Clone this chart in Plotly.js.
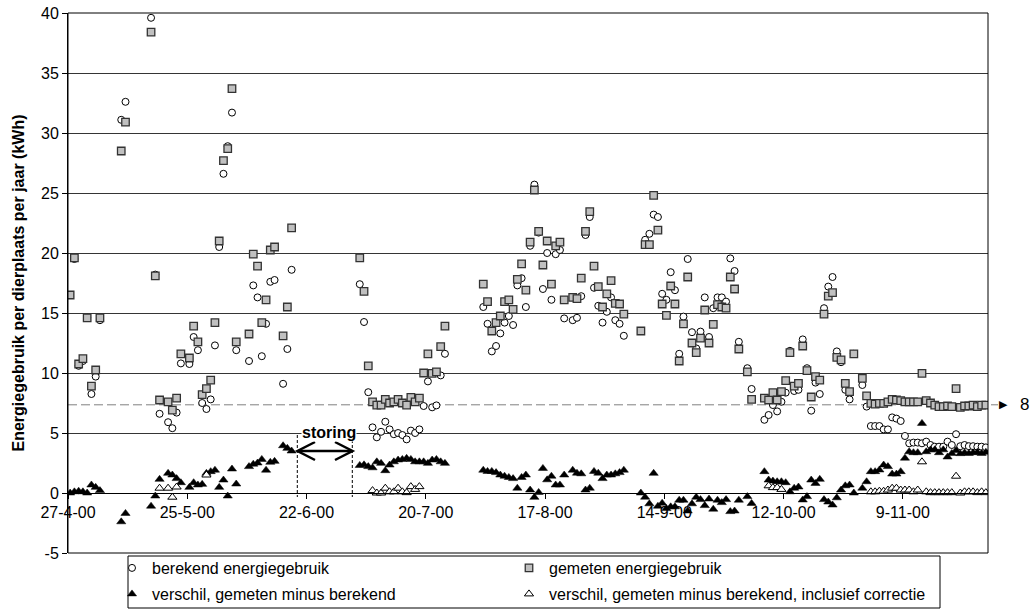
<!DOCTYPE html>
<html><head><meta charset="utf-8">
<script src="https://cdn.plot.ly/plotly-3.0.1.min.js"></script>
<style>html,body{margin:0;padding:0;background:#fff;}#chart{width:1035px;height:614px;}</style>
</head><body><div id="chart"></div>
<script>
// ---------------- data ----------------
const dates = [
'2000-04-27','2000-04-28','2000-04-29','2000-04-30','2000-05-01','2000-05-02','2000-05-03','2000-05-04',
'2000-05-09','2000-05-10','2000-05-16','2000-05-17','2000-05-18','2000-05-20','2000-05-21','2000-05-22','2000-05-23','2000-05-25','2000-05-26','2000-05-27','2000-05-28','2000-05-29','2000-05-30','2000-05-31',
'2000-06-01','2000-06-02','2000-06-03','2000-06-04','2000-06-05','2000-06-08','2000-06-09','2000-06-10','2000-06-11','2000-06-12','2000-06-13','2000-06-14','2000-06-16','2000-06-17','2000-06-18',
'2000-07-04','2000-07-05','2000-07-06','2000-07-07','2000-07-08','2000-07-09','2000-07-10','2000-07-11','2000-07-12','2000-07-13','2000-07-14','2000-07-15','2000-07-16','2000-07-17','2000-07-18','2000-07-19','2000-07-20','2000-07-21','2000-07-22','2000-07-23','2000-07-24',
'2000-08-02','2000-08-03','2000-08-04','2000-08-05','2000-08-06','2000-08-07','2000-08-08','2000-08-09','2000-08-10','2000-08-11','2000-08-12','2000-08-13','2000-08-14','2000-08-15','2000-08-16','2000-08-17','2000-08-18','2000-08-19','2000-08-20','2000-08-21',
'2000-08-23','2000-08-24','2000-08-25','2000-08-26','2000-08-27','2000-08-28','2000-08-29','2000-08-30','2000-08-31','2000-09-01','2000-09-02','2000-09-03','2000-09-04',
'2000-09-08','2000-09-09','2000-09-10','2000-09-11','2000-09-12','2000-09-13','2000-09-14','2000-09-15','2000-09-16','2000-09-17','2000-09-18','2000-09-19','2000-09-20','2000-09-21','2000-09-22','2000-09-23','2000-09-24','2000-09-25','2000-09-26','2000-09-27','2000-09-28','2000-09-29','2000-09-30','2000-10-01',
'2000-10-03','2000-10-04',
'2000-10-07','2000-10-08','2000-10-09','2000-10-10','2000-10-11','2000-10-12','2000-10-13','2000-10-14','2000-10-15','2000-10-16','2000-10-17','2000-10-18','2000-10-19','2000-10-20','2000-10-21','2000-10-22','2000-10-23','2000-10-24','2000-10-25','2000-10-26','2000-10-27','2000-10-28',
'2000-10-30','2000-10-31',
'2000-11-01','2000-11-02','2000-11-03','2000-11-04','2000-11-05','2000-11-06','2000-11-07','2000-11-08','2000-11-09','2000-11-10','2000-11-11','2000-11-12','2000-11-13','2000-11-14','2000-11-15','2000-11-16','2000-11-17','2000-11-18','2000-11-19','2000-11-20','2000-11-21','2000-11-22','2000-11-23','2000-11-24','2000-11-25','2000-11-26','2000-11-27','2000-11-28'
];

const berekend = [
16.5,19.5,10.6,11.0,14.6,8.25,9.7,14.4,
31.1,32.6,39.6,18.2,6.6,5.9,5.4,6.7,10.8,10.75,13.0,11.9,7.5,7.0,7.8,12.3,
20.5,26.6,28.9,31.7,11.9,11.0,17.3,16.3,11.4,14.1,17.6,17.75,9.1,12.0,18.6,
17.4,14.25,8.4,5.47,4.64,5.1,5.94,5.3,4.9,5.0,4.83,4.47,5.2,5.0,5.3,7.25,9.3,7.14,7.3,9.8,11.6,
15.5,14.1,11.8,12.25,13.3,14.2,14.75,14.0,17.3,17.9,15.5,20.6,25.7,21.7,17.0,20.0,16.1,19.9,20.25,14.55,
14.4,14.6,16.4,21.5,23.0,17.1,15.6,14.2,15.1,16.3,14.4,14.1,13.1,
13.5,21.1,21.6,23.2,23.0,16.6,16.1,18.4,16.9,11.6,14.7,19.5,13.4,12.05,13.45,16.3,13.0,15.4,16.3,16.3,15.95,19.55,18.5,12.6,
10.4,8.67,
6.1,6.5,7.33,6.8,7.6,8.36,11.85,8.5,8.6,12.8,10.4,6.86,9.2,8.25,15.4,17.2,18.0,11.8,10.9,8.6,7.8,11.6,
9.0,7.2,
5.58,5.58,5.58,5.3,5.3,6.3,6.2,6.0,4.75,4.14,4.2,4.2,4.14,4.28,4.0,3.86,3.86,3.86,4.28,4.0,4.9,3.9,4.0,3.9,3.9,3.86,3.86,3.8
];

const gemeten = [
16.5,19.6,10.75,11.2,14.6,8.9,10.25,14.6,
28.5,30.9,38.4,18.1,7.75,7.6,6.9,7.9,11.6,11.25,13.9,12.6,8.2,8.7,9.4,14.2,
21.0,27.7,28.7,33.7,12.6,13.25,19.9,18.9,14.2,16.1,20.25,20.5,13.1,15.5,22.1,
19.6,16.8,10.6,7.6,7.33,7.33,7.8,7.5,7.6,7.8,7.5,7.33,7.97,7.6,7.9,10.0,11.6,9.97,10.1,12.2,13.9,
17.4,15.95,13.5,14.2,14.75,15.95,16.1,15.3,17.8,19.1,16.9,20.9,25.25,21.8,19.0,21.0,17.4,20.6,20.9,16.1,
16.3,16.2,17.9,21.8,23.45,18.9,17.2,15.5,16.6,17.7,15.8,15.75,14.9,
13.5,20.7,20.7,24.8,21.9,15.75,14.8,17.25,15.75,11.0,14.1,18.0,12.5,11.7,12.9,15.25,12.5,14.05,15.7,15.5,15.4,18.0,17.0,12.0,
10.1,7.8,
7.9,7.75,8.36,7.75,8.44,9.36,11.7,8.9,9.14,12.25,10.2,8.0,9.7,9.4,14.9,16.4,16.7,11.3,11.1,9.14,8.44,11.6,
9.55,8.1,
7.47,7.4,7.47,7.47,7.6,7.8,7.75,7.7,7.6,7.6,7.6,7.6,9.97,7.7,7.5,7.33,7.2,7.2,7.25,7.2,8.7,7.14,7.25,7.25,7.33,7.2,7.33,7.33
];

const verschil = [
0.0,0.1,0.15,0.1,0.0,0.67,0.47,0.2,
-2.4,-1.7,-1.1,-0.25,1.14,1.64,1.5,1.2,0.86,0.47,0.86,0.67,0.72,1.64,1.78,1.9,
0.47,1.08,-0.25,2.0,0.75,2.2,2.4,2.5,2.8,1.9,2.56,2.64,3.94,3.72,3.5,
2.3,2.35,2.2,2.1,2.6,2.47,1.86,2.33,2.6,2.75,2.8,2.89,2.8,2.6,2.6,2.6,2.47,2.75,2.8,2.6,2.47,
1.9,1.8,1.8,1.7,1.5,1.4,1.3,1.2,0.4,1.3,1.5,0.25,-0.36,0.05,2.05,1.1,1.4,0.67,0.67,1.5,
1.9,1.65,1.6,0.25,0.4,1.8,1.65,1.2,1.5,1.5,1.6,1.7,1.9,
0.0,-0.35,-0.9,1.64,-1.1,-0.85,-1.3,-1.15,-1.15,-0.6,-0.6,-1.5,-0.9,-0.35,-0.55,-1.05,-0.5,-1.35,-0.6,-0.8,-0.55,-1.55,-1.5,-0.6,
-0.3,-0.87,
1.78,1.08,1.0,0.94,0.94,0.86,0.1,0.4,0.5,-0.58,-0.3,1.08,0.8,1.14,-0.55,-0.75,-1.0,-0.4,0.25,0.6,0.67,0.0,
0.4,0.94,
1.78,1.78,1.92,2.33,2.2,1.58,1.58,1.78,2.9,3.44,3.36,3.36,5.8,3.44,3.6,3.6,3.36,3.6,3.0,3.3,3.55,3.28,3.36,3.3,3.36,3.4,3.3,3.4
];

const verschilCorrectie = [
null,null,null,null,null,null,null,null,
null,null,null,null,0.4,0.4,-0.35,0.5,null,null,null,null,null,1.5,null,null,
null,null,null,null,null,null,null,null,null,null,null,null,null,null,null,
null,null,null,0.2,0.0,0.0,0.4,0.1,0.1,0.4,0.1,0.03,0.53,0.3,0.53,null,null,null,null,null,null,
null,null,null,null,null,null,null,null,null,null,null,null,null,null,null,null,null,null,null,null,
null,null,null,null,null,null,null,null,null,null,null,null,null,
null,null,null,null,null,null,null,null,null,null,null,null,null,null,null,null,null,null,null,null,null,null,null,null,
null,null,
null,0.6,0.45,0.45,0.3,null,null,null,null,null,null,null,null,null,null,null,null,null,null,null,null,null,
null,null,
0.1,0.1,0.15,0.15,0.25,0.4,0.4,0.25,0.25,0.25,0.1,0.25,2.6,0.1,0.03,0.03,0.03,0.03,0.03,0.03,1.4,0.0,0.1,0.1,0.1,0.03,0.1,0.03
];

const seriesNames = ['berekend energiegebruik','gemeten energiegebruik','verschil, gemeten minus berekend','verschil, gemeten minus berekend, inclusief correctie'];
const yTickValues = [-5,0,5,10,15,20,25,30,35,40];
const yTickLabels = ['-5','0','5','10','15','20','25','30','35','40'];
const yTitle = 'Energiegebruik per dierplaats per jaar (kWh)';
const storingLabel = 'storing';
const referenceLevel = 7.35;   // dashed reference line
const referenceLabel = '8';

// ---------------- geometry helpers (pixels -> paper) ----------------
const W=1035,H=614,ML=68,MR=47,MT=13,MB=61;
const PW=W-ML-MR, PH=H-MT-MB;
const px = p => (p-ML)/PW;
const py = p => (H-MB-p)/PH;
const yMin=-5,yMax=40;
const refY = (referenceLevel-yMin)/(yMax-yMin);

const FONT = 'Arial, "Liberation Sans", sans-serif';
const DAY = 86400000;
const common = {type:'scatter', mode:'markers', x:dates, xperiod:DAY, xperiodalignment:'middle', hoverinfo:'skip'};

const traces = [
  Object.assign({}, common, {y:berekend, name:seriesNames[0], legend:'legend', legendwidth:352,
    marker:{symbol:'circle', size:7, color:'#ffffff', line:{color:'#000', width:1}}}),
  Object.assign({}, common, {y:gemeten, name:seriesNames[1], legend:'legend',
    marker:{symbol:'square', size:7.5, color:'#c0c0c0', line:{color:'#333', width:1.3}}}),
  Object.assign({}, common, {y:verschil, name:seriesNames[2], legend:'legend2', legendwidth:352,
    marker:{symbol:'triangle-up', size:8, color:'#000', line:{color:'#000', width:0.5}}}),
  Object.assign({}, common, {y:verschilCorrectie, name:seriesNames[3], legend:'legend2',
    marker:{symbol:'triangle-up', size:8, color:'#ffffff', line:{color:'#000', width:1}}})
];

const chev = (tipX, armX) => `M ${px(armX)} ${py(442)} L ${px(tipX)} ${py(451)} L ${px(armX)} ${py(460)}`;

const layout = {
  width:W, height:H,
  margin:{l:ML, r:MR, t:MT, b:MB, pad:0, autoexpand:false},
  paper_bgcolor:'#fff', plot_bgcolor:'#fff',
  font:{family:FONT, size:16, color:'#000'},
  hovermode:false,
  showlegend:true,
  legend:{orientation:'h', x:px(112), xanchor:'left', y:py(551), yanchor:'top',
    borderwidth:0, bgcolor:'rgba(0,0,0,0)', font:{size:16, family:FONT}, itemwidth:30, traceorder:'normal'},
  legend2:{orientation:'h', x:px(112), xanchor:'left', y:py(577), yanchor:'top',
    borderwidth:0, bgcolor:'rgba(0,0,0,0)', font:{size:16, family:FONT}, itemwidth:30, traceorder:'normal'},
  xaxis:{type:'date', range:['2000-04-27','2000-11-29'], tick0:'2000-04-27', dtick:28*DAY,
    tickformat:'%-d-%-m-%y', ticks:'outside', ticklen:5, tickwidth:1, tickcolor:'#000',
    showline:true, linecolor:'#000', linewidth:1, showgrid:false, zeroline:false,
    anchor:'free', position:(0-yMin)/(yMax-yMin), tickfont:{size:16}, fixedrange:true},
  yaxis:{range:[yMin,yMax], tickmode:'array', tickvals:yTickValues, ticktext:yTickLabels,
    ticks:'outside', ticklen:5, tickwidth:1, tickcolor:'#000',
    showline:true, linecolor:'#000', linewidth:1, showgrid:true, gridcolor:'#353535', gridwidth:1,
    zeroline:false, tickfont:{size:16}, fixedrange:true, automargin:false,
    title:{text:'<b>'+yTitle+'</b>', font:{size:16}, standoff:12}},
  shapes:[
    {type:'rect', xref:'paper', yref:'paper', x0:0, x1:1, y0:0, y1:1, line:{color:'#000', width:1}, layer:'above'},
    {type:'line', xref:'paper', yref:'paper', x0:0, x1:px(998), y0:refY, y1:refY, line:{color:'#808080', width:1, dash:'9px,4px'}, layer:'below'},
    {type:'line', xref:'paper', yref:'paper', x0:px(297.3), x1:px(297.3), y0:py(435), y1:py(497), line:{color:'#000', width:1, dash:'3px,2px'}, layer:'above'},
    {type:'line', xref:'paper', yref:'paper', x0:px(352.3), x1:px(352.3), y0:py(435), y1:py(497), line:{color:'#000', width:1, dash:'3px,2px'}, layer:'above'},
    {type:'line', xref:'paper', yref:'paper', x0:px(298), x1:px(352), y0:py(451), y1:py(451), line:{color:'#000', width:2.5}, layer:'above'},
    {type:'path', xref:'paper', yref:'paper', path:chev(297.5,315), line:{color:'#000', width:2.5}, layer:'above'},
    {type:'path', xref:'paper', yref:'paper', path:chev(352.5,335), line:{color:'#000', width:2.5}, layer:'above'},
    {type:'rect', xref:'paper', yref:'paper', x0:px(128), x1:px(940), y0:py(608), y1:py(556), line:{color:'#000', width:1}, fillcolor:'rgba(0,0,0,0)', layer:'above'}
  ],
  annotations:[
    {xref:'paper', yref:'paper', x:px(329), y:py(432.5), text:'<b>'+storingLabel+'</b>', showarrow:false,
      font:{size:16, family:FONT}, bgcolor:'#fff', borderpad:0, xanchor:'center', yanchor:'middle'},
    {xref:'paper', yref:'paper', x:px(1003.5), y:refY, text:'▶', showarrow:false,
      font:{size:11, family:'DejaVu Sans', color:'#000'}, xanchor:'center', yanchor:'middle'},
    {xref:'paper', yref:'paper', x:px(1024), y:refY, text:referenceLabel, showarrow:false,
      font:{size:17, family:FONT}, xanchor:'center', yanchor:'middle'}
  ]
};

Plotly.newPlot('chart', traces, layout, {displayModeBar:false, staticPlot:true});
</script>
</body></html>
